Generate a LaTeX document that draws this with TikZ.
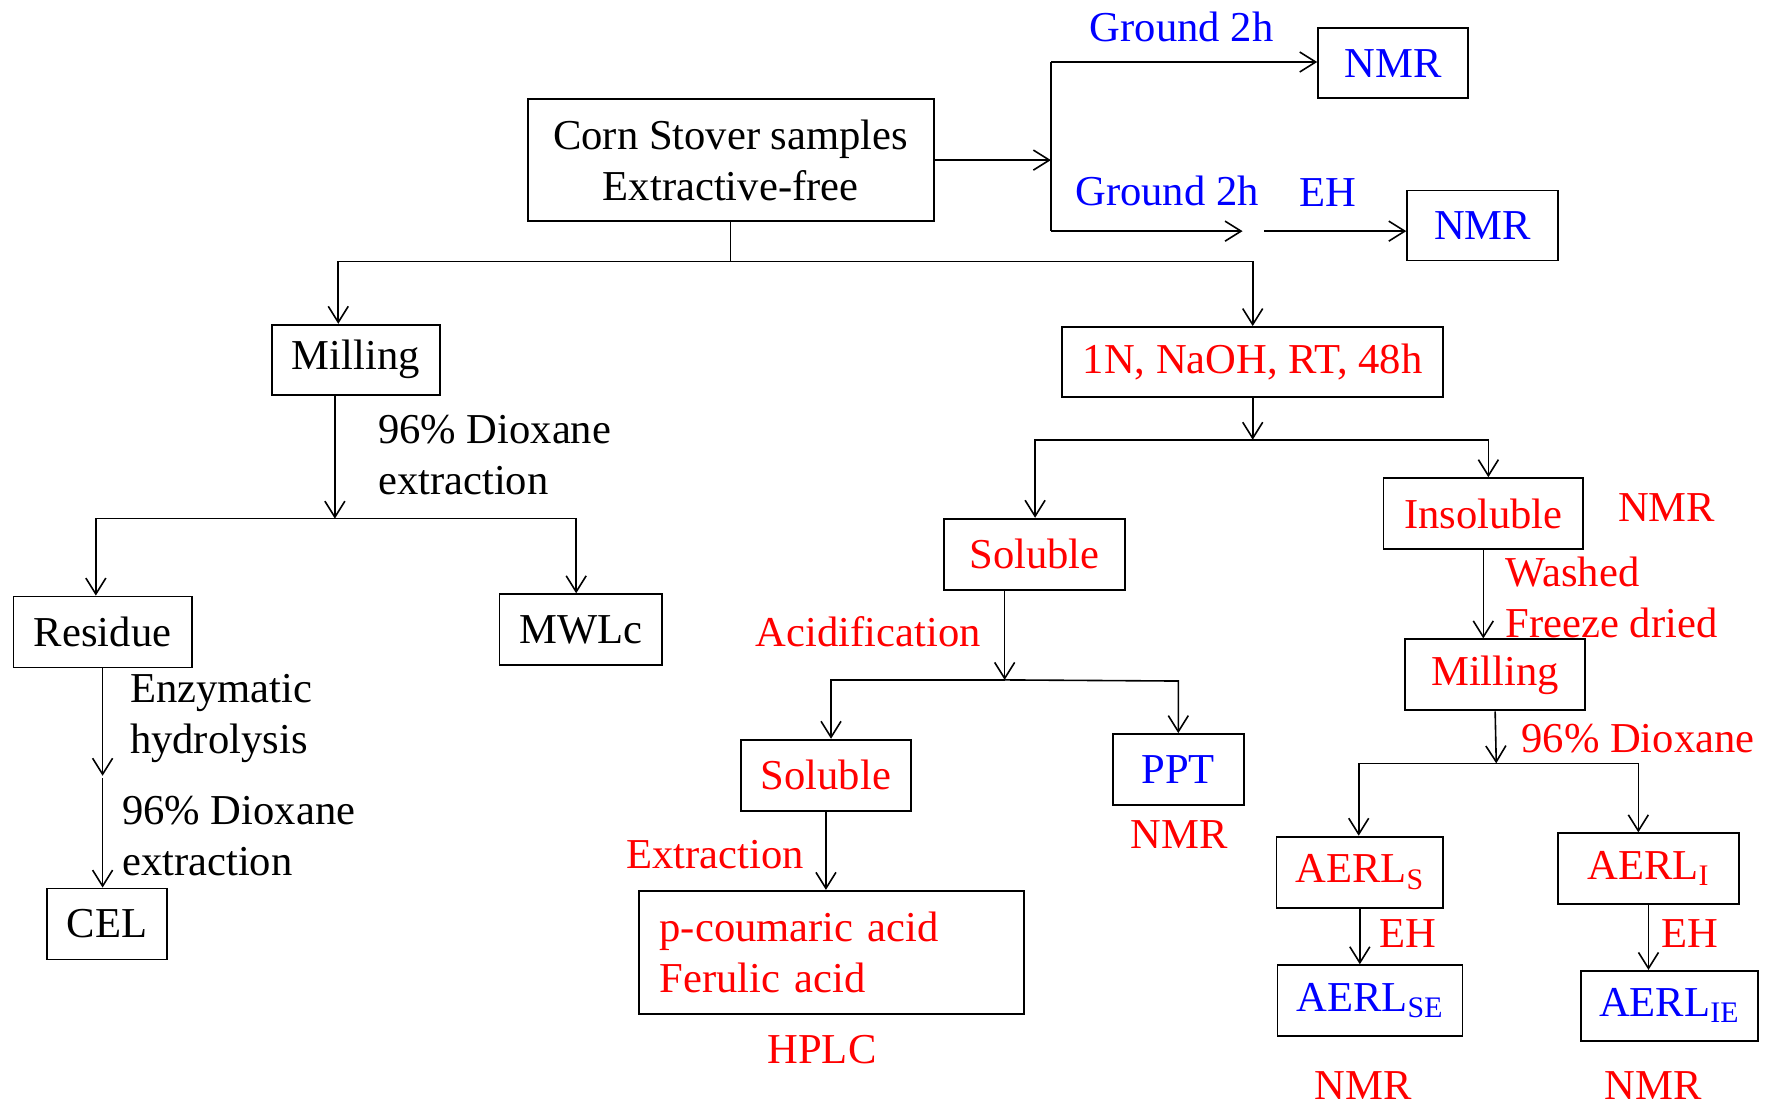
\documentclass[tikz,border=0pt]{standalone}
\usepackage{fontspec}
\setmainfont{Liberation Serif}
\usetikzlibrary{arrows.meta, positioning}
\newlength{\unitpx}
\setlength{\unitpx}{0.5638pt}

\begin{document}
\begin{tikzpicture}[
		x=\unitpx, y=-\unitpx,
		every node/.style={font=\fontsize{21.3}{25.4}\selectfont, inner sep=0pt},
		box/.style 2 args={draw, line width=0.9pt, minimum width=#1*\unitpx, minimum height=#2*\unitpx},
		arr/.style={line width=0.8pt, -{Straight Barb[length=8pt,width=10pt,line width=0.8pt]}},
		link/.style={line width=0.8pt},
		redtxt/.style={text=red},
		bluetxt/.style={text=blue}
	]
	\useasboundingbox (0,0) rectangle (1568,984);

	% boxes
	\node[box={360}{108}, align=center] (corn) at (648,142) {Corn Stover samples\\Extractive-free};
	\node[box={133}{62}, bluetxt] (nmrA) at (1235.5,56) {NMR};
	\node[box={134}{62}, bluetxt] (nmrB) at (1315,200) {NMR};
	\node[box={149}{62}] (mill) at (315.5,319) {Milling};
	\node[box={338}{62}, redtxt] (naoh) at (1111,321) {1N, NaOH, RT, 48h};
	\node[box={158}{63}] (resid) at (91,560.5) {Residue};
	\node[box={144}{63}] (mwlc) at (515,558.5) {MWLc};
	\node[box={106}{63}] (cel) at (95,819.5) {CEL};
	\node[box={161}{63}, redtxt] (sol) at (917.5,491.5) {Soluble};
	\node[box={177}{63}, redtxt] (insol) at (1315.5,455.5) {Insoluble};
	\node[box={151}{63}, redtxt] (solB) at (732.5,687.5) {Soluble};
	\node[box={116}{63}, bluetxt] (ppt) at (1045,682.5) {PPT};
	\node[box={341}{109}, redtxt, align=left, text width=305*\unitpx, inner xsep=18*\unitpx] (acids) at (737.5,844.5) {p-coumaric acid\\Ferulic acid};
	\node[box={160}{63}, redtxt] (millB) at (1326,598.5) {Milling};
	\node[box={148}{63}, redtxt] (aerlS) at (1206,773.5) {AERL\textsubscript{S}};
	\node[box={160}{63}, redtxt] (aerlI) at (1462,770.5) {AERL\textsubscript{I}};
	\node[box={164}{63}, bluetxt] (aerlSE) at (1215,887.5) {AERL\textsubscript{SE}};
	\node[box={157}{62}, bluetxt] (aerlIE) at (1480.5,892) {AERL\textsubscript{IE}};

	% labels
	\node[bluetxt] (grA) at (1048,24) {Ground 2h};
	\node[bluetxt] (grB) at (1035,169) {Ground 2h};
	\node[bluetxt] (ehA) at (1178,171) {EH};
	\node[anchor=west, align=left] (dioxA) at (335,403.5) {96\% Dioxane\\extraction};
	\node[anchor=west, align=left] (enz) at (115,637) {Enzymatic\\hydrolysis};
	\node[anchor=west, align=left] (dioxB) at (108,741.5) {96\% Dioxane\\extraction};
	\node[redtxt] (acidif) at (770,560) {Acidification};
	\node[redtxt] (extr) at (634,758) {Extraction};
	\node[redtxt] (nmrC) at (1046,740) {NMR};
	\node[redtxt] (hplc) at (729,931) {HPLC};
	\node[redtxt] (nmrD) at (1478,450) {NMR};
	\node[redtxt, anchor=west, align=left] (wash) at (1335,530) {Washed\\Freeze dried};
	\node[redtxt, anchor=west] (dioxC) at (1349,655) {96\% Dioxane};
	\node[redtxt] (ehB) at (1249,828) {EH};
	\node[redtxt] (ehC) at (1499,828) {EH};
	\node[redtxt] (nmrE) at (1209,963) {NMR};
	\node[redtxt] (nmrF) at (1466,963) {NMR};

	% junctions
	\coordinate (tM) at (932,142);
	\coordinate (tA) at (932,55);
	\coordinate (tB) at (932,205);
	\coordinate (ehEnd) at (1102,205);
	\coordinate (ehStart) at (1121,205);
	\coordinate (sA) at (648,232);
	\coordinate (sL) at (300,232);
	\coordinate (sR) at (1111,232);
	\coordinate (mB) at (297,460);
	\coordinate (mL) at (85,460);
	\coordinate (mR) at (511,460);
	\coordinate (rM) at (91,688);
	\coordinate (nB) at (1111,390);
	\coordinate (nL) at (918,390);
	\coordinate (nR) at (1320,390);
	\coordinate (aB) at (891,603);
	\coordinate (aL) at (737,603);
	\coordinate (aR) at (1045,604);
	\coordinate (dB) at (1327,677);
	\coordinate (dL) at (1205,677);
	\coordinate (dR) at (1453,677);

	% connectors
	\draw[arr] (corn.east) -- (tM);
	\draw[link] (tA) -- (tB);
	\draw[arr] (tA) -- (tA -| nmrA.west);
	\draw[arr] (tB) -- (ehEnd);
	\draw[arr] (ehStart) -- (ehStart -| nmrB.west);

	\draw[link] (corn.south) -- (sA);
	\draw[arr] (sA) -- (sL) -- (sL |- mill.north);
	\draw[arr] (sA) -- (sR) -- (naoh.north);

	\draw[arr] (mB |- mill.south) -- (mB);
	\draw[arr] (mB) -- (mL) -- (mL |- resid.north);
	\draw[arr] (mB) -- (mR) -- (mR |- mwlc.north);
	\draw[arr] (resid.south) -- (rM);
	\draw[arr] ([yshift=-2*\unitpx]rM) -- (rM |- cel.north);

	\draw[arr] (naoh.south) -- (nB);
	\draw[arr] (nB) -- (nL) -- (nL |- sol.north);
	\draw[arr] (nB) -- (nR) -- (nR |- insol.north);

	\draw[arr] (aB |- sol.south) -- (aB);
	\draw[arr] (aB) -- (aL) -- (aL |- solB.north);
	\draw[arr] (aB) -- (aR) -- (aR |- ppt.north);
	\draw[arr] (solB.south) -- (solB.south |- acids.north);

	\draw[arr] (insol.south) -- (insol.south |- millB.north);
	\draw[arr] (millB.south |- dB) ++(0,-46) -- (dB);
	\draw[arr] (dB) -- (dL) -- (dL |- aerlS.north);
	\draw[arr] (dB) -- (dR) -- (dR |- aerlI.north);
	\draw[arr] (aerlS.south) -- (aerlS.south |- aerlSE.north);
	\draw[arr] (aerlI.south) -- (aerlI.south |- aerlIE.north);
\end{tikzpicture}
\end{document}
